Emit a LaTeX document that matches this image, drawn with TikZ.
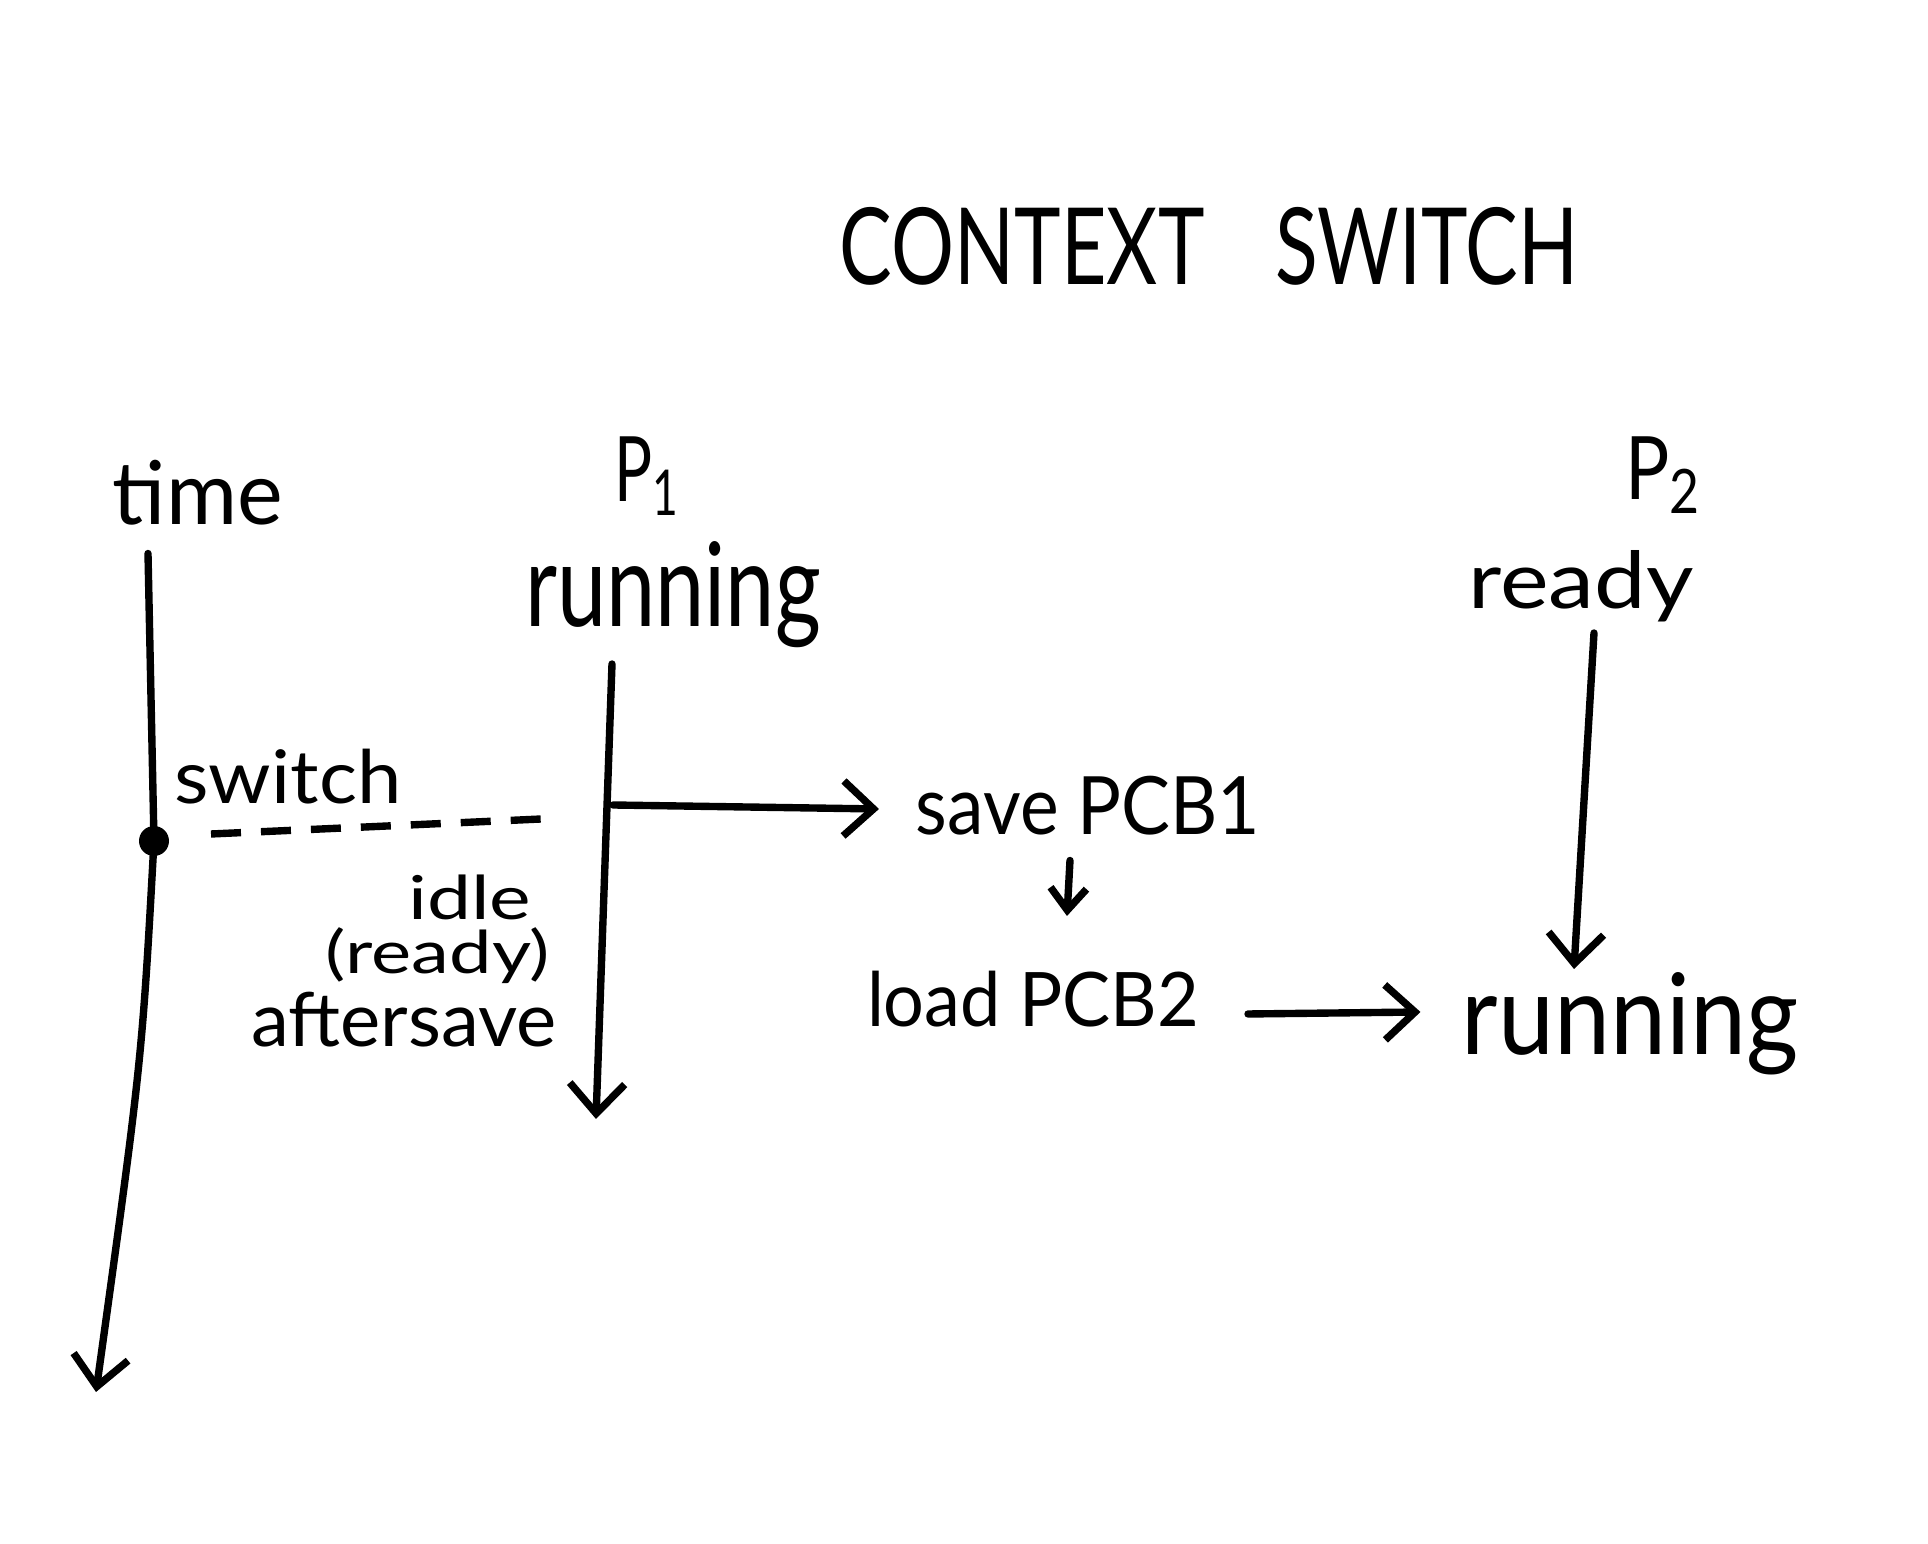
\documentclass[tikz,border=0pt]{standalone}
\usepackage{fontspec}
\setmainfont{Lato}
\usepackage{graphicx}
\usetikzlibrary{arrows.meta,calc}
\newlength\pxu
\setlength\pxu{0.1mm}
\newcommand{\fitbox}[3]{\resizebox*{#1\pxu}{#2\pxu}{#3}}
\newcommand{\fitboxh}[3]{\resizebox{#1\pxu}{#2\pxu}{#3}}
\begin{document}
\begin{tikzpicture}[x=0.1mm,y=-0.1mm,
  lbl/.style={inner sep=0pt, outer sep=0pt, anchor=center},
  lblb/.style={inner sep=0pt, outer sep=0pt, anchor=base},
  stroke/.style={line width=2.1pt, line cap=round, line join=round},
  arr/.style={stroke, -{Straight Barb[length=3mm,width=5.5mm]}},
  smallarr/.style={stroke, -{Straight Barb[length=2.2mm,width=3.6mm]}}]
\useasboundingbox[fill=white] (0,0) rectangle (1928,1544);
% texts
\node[lbl] (title) at (1209,246) {\fitbox{738}{78}{CONTEXT\hspace{0.9em}SWITCH}};
\node[lbl] (time) at (198,493) {\fitbox{170}{65}{time}};
\node[lbl] (p1) at (648,476) {\fitbox{67}{79}{P\textsubscript{1}}};
\node[lblb] (run1) at (673,627) {\fitboxh{296}{85}{running}};
\node[lbl] (p2) at (1664,475) {\fitbox{78}{77}{P\textsubscript{2}}};
\node[lblb] (ready) at (1581,609) {\fitboxh{225}{58}{ready}};
\node[lbl] (switch) at (288,777) {\fitbox{227}{55}{switch}};
\node[lbl] (save) at (1088,806) {\fitbox{344}{59}{save PCB1}};
\node[lbl] (load) at (1033,999) {\fitbox{332}{56}{load PCB2}};
\node[lblb] (run2) at (1630,1055) {\fitboxh{337}{82}{running}};
\node[lbl] (idle) at (470,897) {\fitbox{123}{45}{idle}};
\node[lbl] (rdy) at (438,956) {\fitbox{224}{56}{(ready)}};
\node[lbl] (after) at (404,1020) {\fitbox{305}{55}{aftersave}};
% time axis
\coordinate (t0) at ($(time.south)+(-50,28)$);
\node[circle, fill=black, inner sep=0pt, minimum size=3mm] (dot) at (154,841) {};
\coordinate (t1) at (96,1392);
\draw[stroke] (t0) -- (dot.center);
\draw[arr] (dot.center) .. controls (142,1060) .. (t1);
% dashed switch line
\coordinate (d0) at (211,834);
\coordinate (d1) at (541,819);
\draw[stroke, line cap=butt, dash pattern=on 3mm off 2mm] (d0) -- (d1);
% P1 line
\coordinate (p1a) at ($(run1.base)+(-61,37)$);
\coordinate (p1b) at (596,1119);
\draw[arr] (p1a) -- (p1b);
\coordinate (h0) at (613,805);
\draw[arr] (h0) -- ($(save.west)+(-37,3)$);
% save -> load
\draw[smallarr] ($(save.south)+(-18,25)$) -- ($(load.north)+(34,-55)$);
% load -> running
\draw[arr] ($(load.east)+(49,15)$) -- ($(run2.base west)+(-41,-43)$);
% P2 line
\draw[arr] ($(ready.base)+(13,24)$) -- ($(run2.base)+(-56,-86)$);
\end{tikzpicture}
\end{document}
